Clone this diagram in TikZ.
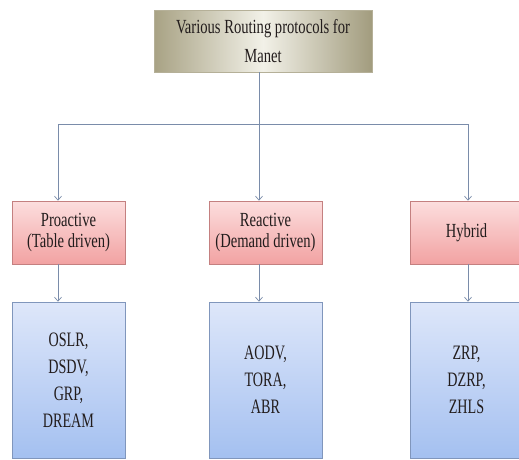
\documentclass[tikz,border=0pt]{standalone}
\usepackage{fontspec}
\usetikzlibrary{arrows.meta}
\newfontfamily\condA[FakeStretch=0.69]{Liberation Serif}
\newfontfamily\condB[FakeStretch=0.73]{Liberation Serif}
\definecolor{connc}{RGB}{122,140,170}
\definecolor{redtop}{RGB}{252,222,222}
\definecolor{redbot}{RGB}{242,162,162}
\definecolor{redline}{RGB}{196,128,128}
\definecolor{bluetop}{RGB}{222,231,250}
\definecolor{bluebot}{RGB}{164,192,240}
\definecolor{blueline}{RGB}{128,150,188}
\definecolor{olvL}{RGB}{168,162,132}
\definecolor{olvM}{RGB}{242,241,232}
\definecolor{olvR}{RGB}{162,156,126}
\definecolor{txt}{RGB}{34,28,28}
\tikzset{
  rootbox/.style={draw=olvR!80!white, line width=0.4pt, left color=olvL, right color=olvR, middle color=olvM,
    minimum width=218pt, minimum height=62pt, inner sep=0pt, align=center, text=txt,
    font=\condB\fontsize{20}{29}\selectfont},
  redbox/.style={draw=redline, line width=0.6pt, top color=redtop, bottom color=redbot,
    minimum width=113pt, minimum height=63pt, inner sep=0pt, align=center, text=txt,
    font=\condB\fontsize{20}{21}\selectfont},
  bluebox/.style={draw=blueline, line width=0.6pt, top color=bluetop, bottom color=bluebot,
    minimum width=113pt, minimum height=156pt, inner sep=0pt, align=center, text=txt,
    font=\condA\fontsize{20.5}{27}\selectfont},
  conn/.style={draw=connc, line width=0.8pt},
  tip/.style={-{Straight Barb[length=4pt,width=7pt,line width=0.7pt]}}
}
\begin{document}
\begin{tikzpicture}[x=1pt,y=-1pt]
\useasboundingbox (0,0) rectangle (519,459);
\node[rootbox] (root) at (263,41) {Various Routing protocols for\\Manet};
\node[redbox] (pro) at (68.5,232.5) {Proactive\\(Table driven)};
\node[redbox] (rea) at (265.5,232.5) {Reactive\\(Demand driven)};
\node[redbox] (hyb) at (466.5,232.5) {Hybrid};
\node[bluebox] (pb) at (68.5,380) {OSLR,\\DSDV,\\GRP,\\DREAM};
\node[bluebox] (rb) at (265.5,380) {AODV,\\TORA,\\ABR};
\node[bluebox] (hb) at (466.5,380) {ZRP,\\DZRP,\\ZHLS};
\coordinate (jl) at (58,124);
\coordinate (jc) at (259,124);
\coordinate (jr) at (468,124);
\draw[conn,tip] (jc |- root.south) -- (jc |- rea.north);
\draw[conn,tip] (jc) -- (jl) -- (jl |- pro.north);
\draw[conn,tip] (jc) -- (jr) -- (jr |- hyb.north);
\draw[conn,tip] (jl |- pro.south) -- (jl |- pb.north);
\draw[conn,tip] (jc |- rea.south) -- (jc |- rb.north);
\draw[conn,tip] (jr |- hyb.south) -- (jr |- hb.north);
\end{tikzpicture}
\end{document}
